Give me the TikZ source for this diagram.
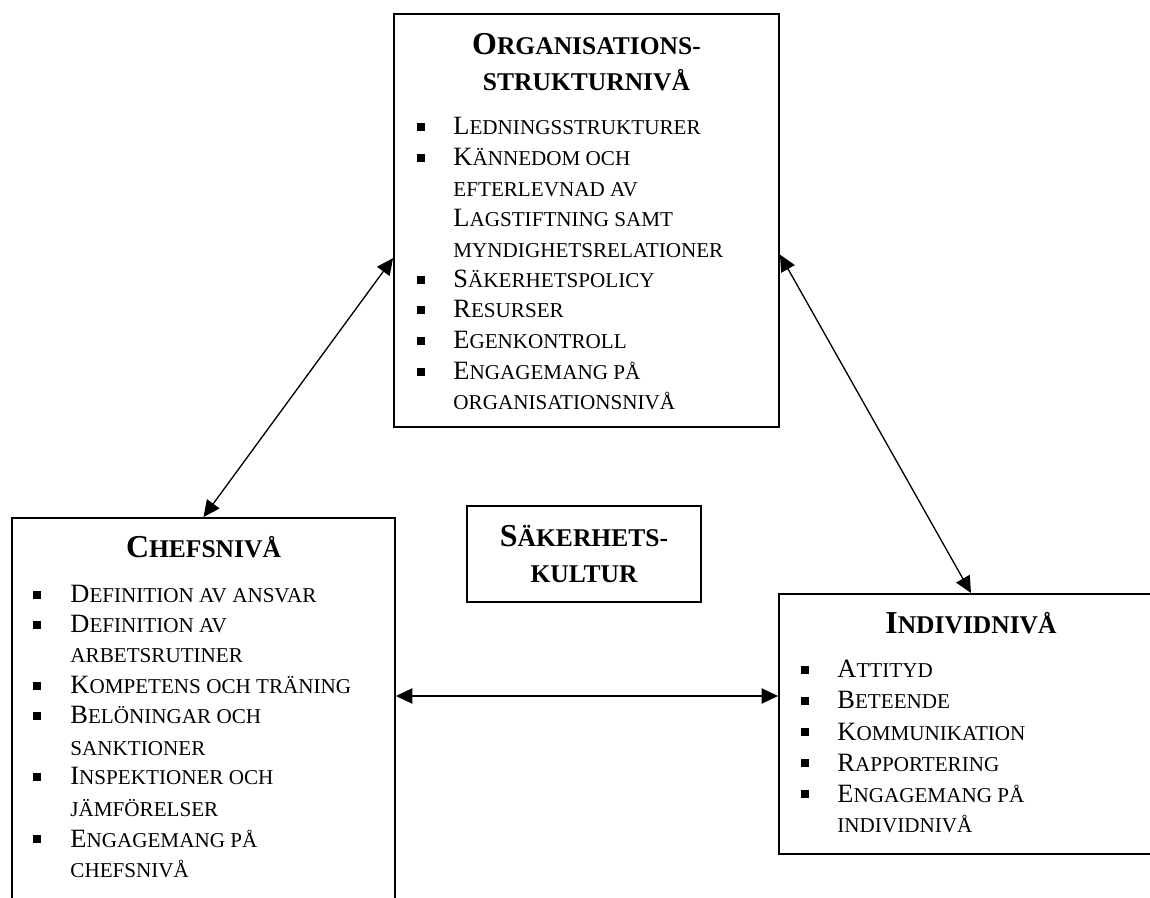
\documentclass[tikz,border=0pt]{standalone}
\usepackage{fontspec}
\setmainfont{Liberation Serif}
\usetikzlibrary{arrows.meta,fit,calc}
\newcommand\smallc[1]{{\fontsize{9.6}{14}\selectfont\MakeUppercase{#1}}}
\newcommand\titlec[1]{{\fontsize{11.6}{17}\selectfont\MakeUppercase{#1}}}
\begin{document}
\begin{tikzpicture}[x=0.4545pt, y=-0.4545pt,
  box/.style={draw, line width=0.85pt, inner sep=0pt},
  title/.style={font=\fontsize{14.5}{17}\selectfont\bfseries, inner sep=0pt, anchor=base},
  item/.style={font=\fontsize{12}{14}\selectfont, inner sep=0pt, anchor=base west},
  bul/.style={fill, inner sep=0pt, minimum size=3.4pt},
  link/.style={{Triangle[length=7.5pt,width=7pt]}-{Triangle[length=7.5pt,width=7pt]}, line width=0.6pt}]
  \useasboundingbox (0,0) rectangle (1150,898);
  \clip (0,0) rectangle (1150,898);
  % boxes
  \node[box, fit={(394,14) (779,427)}] (org) {};
  \node[box, fit={(12,518) (395,960)}] (chef) {};
  \node[box, fit={(779,594) (1163,854)}] (indiv) {};
  \node[box, fit={(467,506) (701,602)}] (kultur) {};
  % organisation level
  \node[title] (orgt1) at (586.5,55) {O\titlec{rganisations-}};
  \node[title] (orgt2) at (586.5,91) {\titlec{strukturnivå}};
  \foreach \yy/\txt in {135/{L\smallc{edningsstrukturer}}, 166/{K\smallc{ännedom och}},
      197/{\smallc{efterlevnad av}}, 227/{L\smallc{agstiftning samt}},
      258/{\smallc{myndighetsrelationer}}, 288/{S\smallc{äkerhetspolicy}},
      318/{R\smallc{esurser}}, 349/{E\smallc{genkontroll}},
      380/{E\smallc{ngagemang på}}, 410/{\smallc{organisationsnivå}}}
    \node[item] (orgi\yy) at (453,\yy) {\txt};
  \foreach \yy in {135,166,288,318,349,380}
    \node[bul] (orgb\yy) at (421,\yy-8) {};
  % manager level
  \node[title] (cheft) at (203.5,558) {C\titlec{hefsnivå}};
  \foreach \yy/\txt in {603/{D\smallc{efinition av ansvar}}, 633/{D\smallc{efinition av}},
      663/{\smallc{arbetsrutiner}}, 694/{K\smallc{ompetens och träning}},
      724/{B\smallc{elöningar och}}, 755/{\smallc{sanktioner}},
      785/{I\smallc{nspektioner och}}, 816/{\smallc{jämförelser}},
      847/{E\smallc{ngagemang på}}, 877/{\smallc{chefsnivå}}}
    \node[item] (chefi\yy) at (70,\yy) {\txt};
  \foreach \yy in {603,633,694,724,785,847}
    \node[bul] (chefb\yy) at (37,\yy-8) {};
  % individual level
  \node[title] (indivt) at (971,634) {I\titlec{ndividnivå}};
  \foreach \yy/\txt in {678/{A\smallc{ttityd}}, 709/{B\smallc{eteende}},
      740/{K\smallc{ommunikation}}, 771/{R\smallc{apportering}},
      802/{E\smallc{ngagemang på}}, 832/{\smallc{individnivå}}}
    \node[item] (indivi\yy) at (837,\yy) {\txt};
  \foreach \yy in {678,709,740,771,802}
    \node[bul] (indivb\yy) at (805,\yy-8) {};
  % safety culture
  \node[title] (kult1) at (584,547) {S\titlec{äkerhets-}};
  \node[title] (kult2) at (584,583) {\titlec{kultur}};
  % arrows
  \coordinate (mid) at (584,696);
  \draw[link] (org.191) -- (chef.north);
  \draw[link] (org.350) -- (indiv.north);
  \draw[link] (mid -| chef.east) -- (mid -| indiv.west);
\end{tikzpicture}
\end{document}
